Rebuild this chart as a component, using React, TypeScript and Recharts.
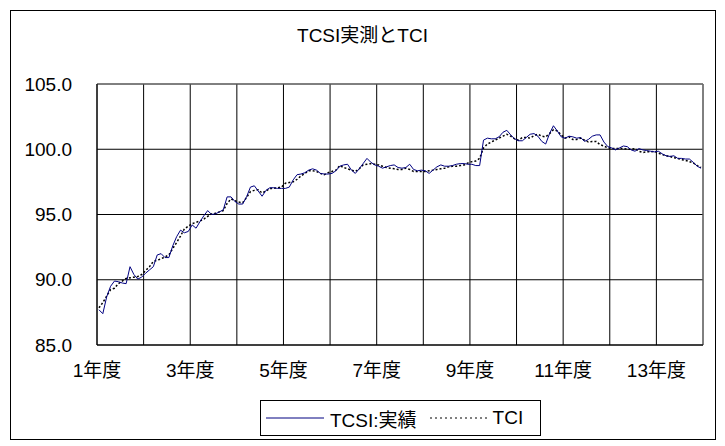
import {
  LineChart,
  Line,
  XAxis,
  YAxis,
  CartesianGrid,
  Legend,
  ReferenceLine,
} from 'recharts';

const FONT = '"Liberation Sans", "Noto Sans CJK JP", sans-serif';

// Monthly values, 13 fiscal years x 12 months
const tcsi = [
  87.7, 87.4, 88.7, 89.5, 89.9, 89.85, 89.75, 89.7, 91.0, 90.4, 90.05, 90.2,
  90.5, 90.75, 91.0, 91.9, 92.0, 91.7, 91.7, 92.6, 93.3, 93.8, 93.6, 93.7,
  94.2, 93.95, 94.45, 94.9, 95.3, 95.0, 95.05, 95.2, 95.35, 96.35, 96.35, 96.0,
  95.8, 95.8, 96.35, 97.1, 97.2, 96.8, 96.4, 96.85, 97.05, 97.05, 97.0, 97.0,
  97.0, 97.1, 97.65, 98.05, 98.1, 98.2, 98.4, 98.5, 98.4, 98.15, 98.1, 98.1,
  98.15, 98.35, 98.7, 98.8, 98.85, 98.4, 98.15, 98.5, 98.9, 99.3, 99.0, 98.8,
  98.7, 98.55, 98.65, 98.75, 98.8, 98.6, 98.55, 98.6, 98.85, 98.45, 98.35, 98.4,
  98.35, 98.15, 98.4, 98.65, 98.8, 98.7, 98.7, 98.75, 98.85, 98.9, 98.9, 98.85,
  98.85, 98.75, 98.75, 100.7, 100.85, 100.8, 100.8, 100.95, 101.3, 101.45, 101.1, 100.8,
  100.65, 100.65, 100.9, 101.15, 101.2, 101.0, 100.6, 100.4, 101.2, 101.8, 101.4, 100.95,
  100.85, 101.0, 100.95, 100.85, 100.9, 100.6, 100.75, 101.0, 101.1, 101.1, 100.55, 100.2,
  100.1, 99.95, 100.1, 100.25, 100.2, 99.95, 99.85, 100.05, 99.95, 99.9, 99.85, 99.8,
  99.85, 99.65, 99.5, 99.45, 99.5, 99.3, 99.3, 99.25, 99.25, 99.0, 98.7, 98.55,
];

const tci = [
  87.85, 88.25, 88.75, 89.25, 89.35, 89.7, 89.9, 90.1, 90.15, 90.2, 90.25, 90.4,
  90.7, 91.0, 91.4, 91.5, 91.6, 91.75, 91.9, 92.4, 92.85, 93.35, 93.9, 94.1,
  94.3, 94.4, 94.5, 94.65, 94.85, 95.05, 95.1, 95.2, 95.3, 95.85, 96.2, 96.05,
  95.95, 95.9, 96.3, 96.75, 96.85, 96.9, 96.65, 96.8, 97.0, 97.0, 97.05, 97.1,
  97.4, 97.45, 97.5, 97.7, 97.95, 98.15, 98.35, 98.35, 98.3, 98.15, 98.05, 98.2,
  98.3, 98.4, 98.75, 98.6, 98.5, 98.4, 98.3, 98.5, 98.8, 98.85, 98.9, 98.85,
  98.8, 98.7, 98.6, 98.55, 98.5, 98.45, 98.45, 98.55, 98.45, 98.3, 98.3, 98.3,
  98.3, 98.35, 98.4, 98.45, 98.5, 98.55, 98.65, 98.7, 98.7, 98.75, 98.8, 98.95,
  99.05, 99.1, 99.3, 100.1, 100.4, 100.55, 100.7, 100.85, 101.0, 101.15, 101.0, 100.8,
  100.7, 100.9, 100.9, 100.85, 101.05, 101.15, 101.0, 100.95, 101.2, 101.5, 101.4, 101.1,
  100.85, 100.95, 100.75, 100.75, 100.85, 100.7, 100.55, 100.6, 100.6, 100.35, 100.25, 100.1,
  100.05, 100.05, 100.05, 100.05, 100.0, 100.0, 100.05, 99.85, 99.75, 99.8, 99.8, 99.85,
  99.7, 99.6, 99.5, 99.45, 99.35, 99.3, 99.2, 99.15, 99.05, 98.95, 98.75, 98.6,
];

const yearTicks = [0, 12, 24, 36, 48, 60, 72, 84, 96, 108, 120, 132, 144, 156];
const yearLabels = [
  '1年度', '', '3年度', '', '5年度', '', '7年度', '', '9年度', '', '11年度', '', '13年度', '',
];
const valueTicks = [85, 90, 95, 100, 105];

// each month sits in the middle of its slot
const data = tcsi.map((v, i) => ({ t: i + 0.5, tcsi: v, tci: tci[i] }));

const ChartLegend = () => (
  <div
    style={{
      width: 281,
      height: 36,
      boxSizing: 'border-box',
      border: '1px solid #000',
      background: '#fff',
      display: 'flex',
      alignItems: 'center',
      fontFamily: FONT,
      fontSize: 19,
      color: '#000',
      paddingLeft: 5,
    }}
  >
    <svg width={60} height={6}>
      <line x1={0} y1={3} x2={58} y2={3} stroke="#000080" strokeWidth={1} />
    </svg>
    <span style={{ marginLeft: 4 }}>TCSI:実績</span>
    <svg width={60} height={6} style={{ marginLeft: 13 }}>
      <line x1={0} y1={3} x2={58} y2={3} stroke="#000" strokeWidth={1} strokeDasharray="2 3" />
    </svg>
    <span style={{ marginLeft: 3 }}>TCI</span>
  </div>
);

export default function App() {
  return (
    <div style={{ position: 'absolute', left: 0, top: 0, width: 725, height: 446, background: '#fff' }}>
      <div
        style={{
          position: 'absolute',
          left: 10,
          top: 10,
          width: 706,
          height: 430,
          boxSizing: 'border-box',
          border: '1px solid #000',
        }}
      />
      <div
        style={{
          position: 'absolute',
          left: 0,
          top: 20,
          width: 725,
          textAlign: 'center',
          fontFamily: FONT,
          fontSize: 19,
          color: '#000',
        }}
      >
        TCSI実測とTCI
      </div>
      <div style={{ position: 'absolute', left: 0, top: 0 }}>
        <LineChart width={725} height={446} data={data} margin={{ top: 84, right: 22, left: 37, bottom: 71 }}>
          <CartesianGrid stroke="#000" />
          <XAxis
            type="number"
            dataKey="t"
            domain={[0, 156]}
            ticks={yearTicks}
            interval={0}
            tickFormatter={(v) => yearLabels[v / 12] ?? ''}
            tick={{ fill: '#000', fontSize: 19, fontFamily: FONT }}
            axisLine={{ stroke: '#000' }}
            tickLine={false}
            tickSize={0}
            tickMargin={19}
            height={30}
          />
          <YAxis
            domain={[85, 105]}
            ticks={valueTicks}
            interval={0}
            tickFormatter={(v) => v.toFixed(1)}
            tick={{ fill: '#000', fontSize: 19, fontFamily: FONT }}
            axisLine={{ stroke: '#000' }}
            tickLine={false}
            tickSize={0}
            tickMargin={25}
            width={60}
          />
          <ReferenceLine y={105} stroke="#808080" />
          <ReferenceLine x={156} stroke="#808080" />
          <Legend
            layout="horizontal"
            align="center"
            verticalAlign="middle"
            content={() => <ChartLegend />}
            wrapperStyle={{ position: 'absolute', left: 260, top: 400, width: 281, height: 36 }}
          />
          <Line
            type="linear"
            dataKey="tci"
            stroke="#000"
            strokeWidth={1.5}
            strokeDasharray="2 2"
            dot={false}
            isAnimationActive={false}
          />
          <Line
            type="linear"
            dataKey="tcsi"
            stroke="#000080"
            strokeWidth={1}
            dot={false}
            isAnimationActive={false}
          />
        </LineChart>
      </div>
    </div>
  );
}
